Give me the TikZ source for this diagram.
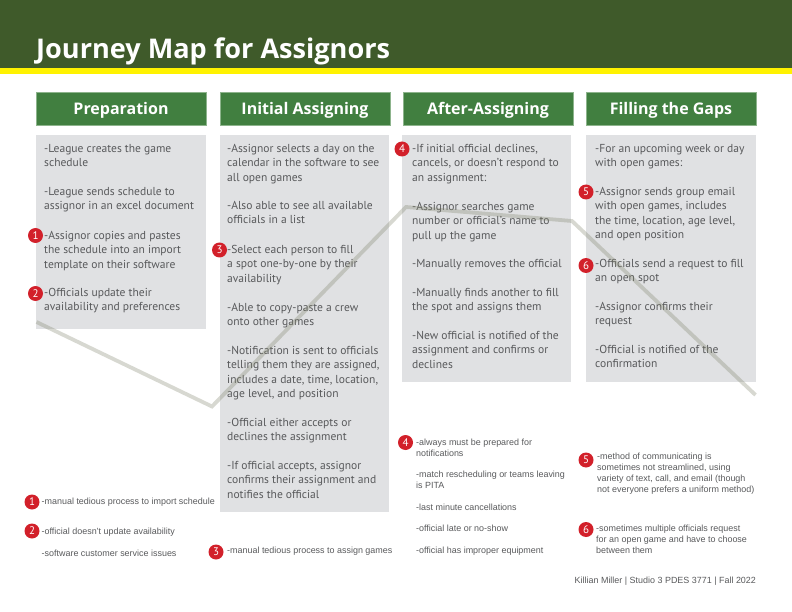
\documentclass[tikz,border=0pt]{standalone}
\usepackage{fontspec}
\setmainfont{PT Sans}
\newfontfamily\arialf{Liberation Sans}
\newfontfamily\headf{Open Sans}
\definecolor{bandgreen}{HTML}{3F5A2A}
\definecolor{bandyellow}{HTML}{FFF200}
\definecolor{headgreen}{HTML}{417F40}
\definecolor{headedge}{HTML}{8DB48C}
\definecolor{panelgrey}{HTML}{E0E1E3}
\definecolor{txtgrey}{HTML}{58595B}
\definecolor{badgered}{HTML}{D2202A}
\definecolor{journey}{HTML}{7C7F66}
\tikzset{
  panel/.style={fill=panelgrey,draw=none},
  headbox/.style={fill=headgreen,draw=headedge,line width=.6pt},
  headtxt/.style={text=white,font=\headf\fontsize{16}{18}\selectfont\bfseries,inner sep=0pt,yshift=-2.2pt},
  bodytxt/.style={anchor=north west,inner sep=0pt,align=left,text=txtgrey,yshift=4pt,
    font=\fontsize{11.55}{14.35}\selectfont},
  notetxt/.style={anchor=north west,inner sep=0pt,align=left,text=txtgrey,yshift=3.4pt,
    font=\arialf\fontsize{8.95}{11}\selectfont},
  badge/.style={circle,fill=badgered,text=white,inner sep=0pt,minimum size=15pt,
    font=\fontsize{11}{12}\selectfont},
  journeyline/.style={draw=journey,line width=3.8pt,opacity=.3,line join=miter}
}
\begin{document}
\begin{tikzpicture}[x=1pt,y=-1pt]
\useasboundingbox (0,0) rectangle (792,612);
% top band
\fill[bandgreen] (0,0) rectangle (792,68);
\fill[bandyellow] (0,68) rectangle (792,74);
\node[anchor=base west,inner sep=0pt,text=white,font=\headf\fontsize{27.1}{30}\selectfont\bfseries] (title) at (36,59) {Journey Map for Assignors};
% column headers
\node[headbox,minimum width=170pt,minimum height=33pt,inner sep=0pt] (h1) at (121,108.5) {};
\node[headbox,minimum width=170pt,minimum height=33pt,inner sep=0pt] (h2) at (305,108.5) {};
\node[headbox,minimum width=170pt,minimum height=33pt,inner sep=0pt] (h3) at (488,108.5) {};
\node[headbox,minimum width=170pt,minimum height=33pt,inner sep=0pt] (h4) at (671,108.5) {};
\node[headtxt] (h1t) at (h1) {Preparation};
\node[headtxt] (h2t) at (h2) {Initial Assigning};
\node[headtxt] (h3t) at (h3) {After-Assigning};
\node[headtxt] (h4t) at (h4) {Filling the Gaps};
% panels
\fill[panel] (36,135) rectangle (206,329);
\fill[panel] (220,135) rectangle (389,512);
\fill[panel] (402,135) rectangle (571,382);
\fill[panel] (586,135) rectangle (756,382);
% column 1
\node[bodytxt] (a1) at (44,148) {-League creates the game\\schedule};
\node[bodytxt] (a2) at (44,191) {-League sends schedule to\\assignor in an excel document};
\node[bodytxt] (a3) at (44,235) {-Assignor copies and pastes\\the schedule into an import\\template on their software};
\node[bodytxt] (a4) at (44,292) {-Officials update their\\availability and preferences};
% column 2
\node[bodytxt] (b1) at (227,148) {-Assignor selects a day on the\\calendar in the software to see\\all open games};
\node[bodytxt] (b2) at (227,205) {-Also able to see all available\\officials in a list};
\node[bodytxt] (b3) at (227,249) {-Select each person to fill\\a spot one-by-one by their\\availability};
\node[bodytxt] (b4) at (227,307) {-Able to copy-paste a crew\\onto other games};
\node[bodytxt] (b5) at (227,350) {-Notification is sent to officials\\telling them they are assigned,\\includes a date, time, location,\\age level, and position};
\node[bodytxt] (b6) at (227,422) {-Official either accepts or\\declines the assignment};
\node[bodytxt] (b7) at (227,465) {-If official accepts, assignor\\confirms their assignment and\\notifies the official};
% column 3
\node[bodytxt] (c1) at (412,148) {-If initial official declines,\\cancels, or doesn’t respond to\\an assignment:};
\node[bodytxt] (c2) at (412,206) {-Assignor searches game\\number or official’s name to\\pull up the game};
\node[bodytxt] (c3) at (412,263) {-Manually removes the official};
\node[bodytxt] (c4) at (412,292) {-Manually finds another to fill\\the spot and assigns them};
\node[bodytxt] (c5) at (412,335) {-New official is notified of the\\assignment and confirms or\\declines};
% column 4
\node[bodytxt] (d1) at (595,148) {-For an upcoming week or day\\with open games:};
\node[bodytxt] (d2) at (595,191) {-Assignor sends group email\\with open games, includes\\the time, location, age level,\\and open position};
\node[bodytxt] (d3) at (595,263) {-Officials send a request to fill\\an open spot};
\node[bodytxt] (d4) at (595,306) {-Assignor confirms their\\request};
\node[bodytxt] (d5) at (595,349) {-Official is notified of the\\confirmation};
% journey line
\coordinate (j1) at (36.5,322);
\coordinate (j2) at (212,406.5);
\coordinate (j3) at (406,207);
\coordinate (j4) at (572,221);
\coordinate (j5) at (755.5,395);
\draw[journeyline] (j1) -- (j2) -- (j3) -- (j4) -- (j5);
% badges in panels
\node[badge] (p1) at (35.5,235.5) {1};
\node[badge] (p2) at (35.5,293.5) {2};
\node[badge] (p3) at (219.5,250) {3};
\node[badge] (p4) at (402,149) {4};
\node[badge] (p5) at (586,192) {5};
\node[badge] (p6) at (586,265.5) {6};
% lower notes
\node[badge] (n1) at (32,502) {1};
\node[notetxt] (e1) at (41.5,501) {-manual tedious process to import schedule};
\node[badge] (n2) at (32,531) {2};
\node[notetxt] (e2) at (41.5,531) {-official doesn’t update availability};
\node[notetxt] (e3) at (41.5,553) {-software customer service issues};
\node[badge] (n3) at (216,552) {3};
\node[notetxt] (e4) at (227,550) {-manual tedious process to assign games};
\node[badge] (n4) at (405.5,442.5) {4};
\node[notetxt] (f1) at (416,442) {-always must be prepared for\\notifications};
\node[notetxt] (f2) at (416,474) {-match rescheduling or teams leaving\\is PITA};
\node[notetxt] (f3) at (416,507) {-last minute cancellations};
\node[notetxt] (f4) at (416,528) {-official late or no-show};
\node[notetxt] (f5) at (416,550) {-official has improper equipment};
\node[badge] (n5) at (586,460) {5};
\node[notetxt] (g1) at (597,456) {-method of communicating is\\sometimes not streamlined, using\\variety of text, call, and email (though\\not everyone prefers a uniform method)};
\node[badge] (n6) at (586,529.5) {6};
\node[notetxt] (g2) at (596,528) {-sometimes multiple officials request\\for an open game and have to choose\\between them};
\node[notetxt] (foot) at (574.5,580) {Killian Miller | Studio 3 PDES 3771 | Fall 2022};
\end{tikzpicture}
\end{document}
